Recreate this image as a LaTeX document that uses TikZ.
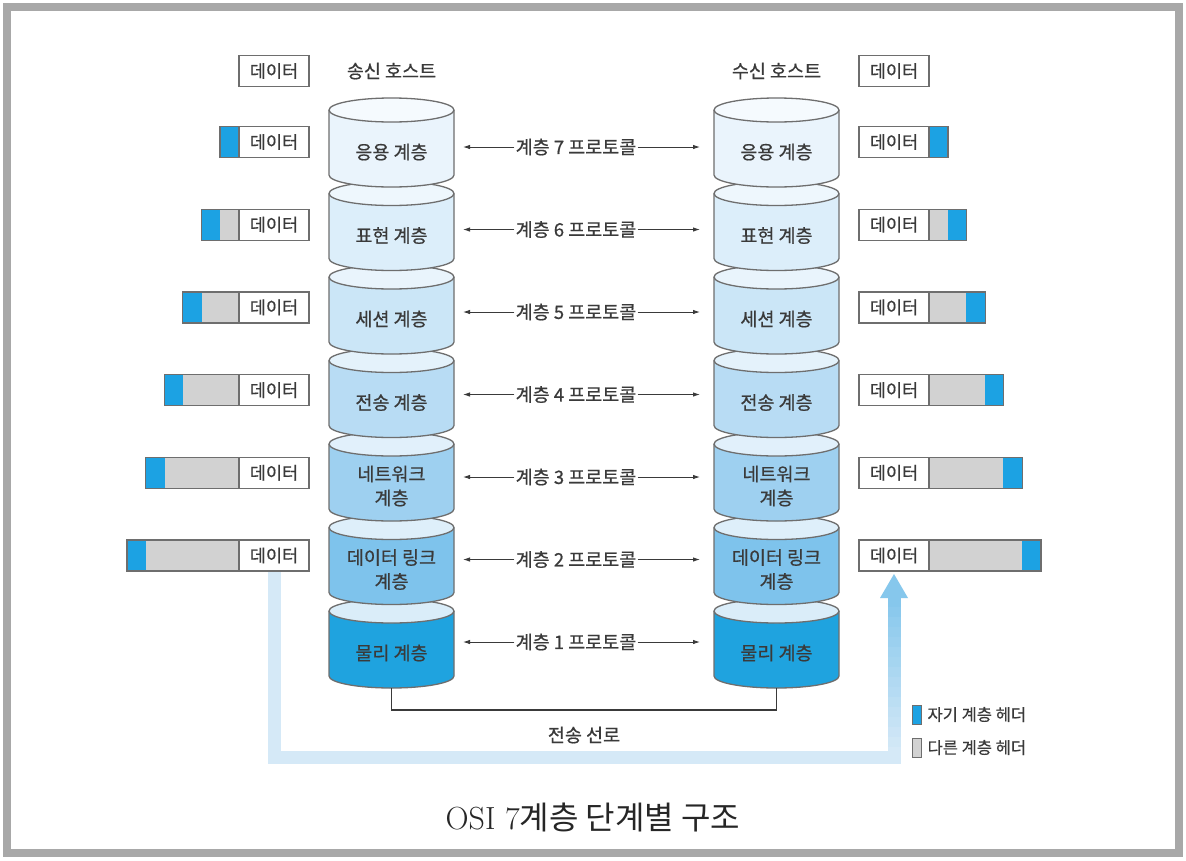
\documentclass[tikz,border=0pt]{standalone}
\usepackage{fontspec}
\newfontfamily\cjk{Noto Sans CJK KR}[FakeBold=0.6]
\newfontfamily\cjktitle{Noto Sans CJK KR}
\usetikzlibrary{arrows.meta,positioning}

\definecolor{framegray}{HTML}{A8A8A8}
\definecolor{edge}{HTML}{6E6E6E}
\definecolor{textc}{HTML}{3A3A3A}
\definecolor{hdrblue}{HTML}{1CA2E3}
\definecolor{hdrgray}{HTML}{D2D2D2}
\definecolor{lbpath}{HTML}{D5E9F7}
\definecolor{lbhead}{HTML}{86C7EC}
% layer colours (body / top)
\definecolor{b7}{HTML}{EAF4FC}\definecolor{t7}{HTML}{F5FAFE}
\definecolor{b6}{HTML}{DCEEFA}\definecolor{t6}{HTML}{EEF7FD}
\definecolor{b5}{HTML}{CBE6F7}\definecolor{t5}{HTML}{E9F4FC}
\definecolor{b4}{HTML}{B8DCF4}\definecolor{t4}{HTML}{E4F2FB}
\definecolor{b3}{HTML}{9ED0F0}\definecolor{t3}{HTML}{E1F0FB}
\definecolor{b2}{HTML}{7EC3EC}\definecolor{t2}{HTML}{DEEFFA}
\definecolor{b1}{HTML}{1FA3DF}\definecolor{t1}{HTML}{DAEDF9}

\begin{document}
\begin{tikzpicture}[x=1pt,y=1pt,yscale=-1,
  txt/.style={font=\cjk\fontsize{18.5}{24}\selectfont, text=textc, inner sep=1pt},
  layerlbl/.style={txt, align=center},
  datab/.style={txt, font=\cjk\fontsize{17.5}{21}\selectfont, draw=edge, line width=1.2pt, fill=white, minimum width=70pt, minimum height=31pt, inner sep=0pt},
  arr/.style={-{Latex[length=7pt,width=4.5pt]}, line width=0.9pt, draw=textc},
  wire/.style={line width=1.2pt, draw=textc},
  keybox/.style={draw=edge, line width=0.8pt, minimum width=9pt, minimum height=19pt, inner sep=0pt},
  keytxt/.style={font=\cjk\fontsize{16.5}{19}\selectfont, text=textc, inner sep=0pt}]

\useasboundingbox (0,0) rectangle (1186,860);
\fill[white] (0,0) rectangle (1186,860);
% frame
\draw[line width=8pt, framegray] (7,7) rectangle (1179,853);

% hosts
\node[txt] (shost) at (391.5,71) {송신 호스트};
\node[txt] (rhost) at (776.5,71) {수신 호스트};
\node[datab] (sd0) at (274,71) {데이터};
\node[datab] (rd0) at (894,71) {데이터};

% path of the data through the wire
\coordinate (lowl) at (274,757);
\coordinate (ahead) at (894,598);
\coordinate (atip) at (894,574);
\draw[line width=13pt, lbpath] (274,571) -- (lowl) -| (ahead);
\foreach \k in {0,...,15} {
  \pgfmathtruncatemacro\pc{\k*100/15}
  \fill[lbhead!\pc!lbpath] (887.5,757-\k*10) rectangle (900.5,757-\k*10-10.5);
}
\fill[lbhead] ([xshift=-14pt]ahead) -- ([xshift=14pt]ahead) -- (atip) -- cycle;

% cylinders, bottom first
\foreach \n/\lbl [evaluate=\n as \T using 98+83.5*(7-\n)] in
  {1/{물리 계층}, 2/{데이터 링크\\계층}, 3/{네트워크\\계층}, 4/{전송 계층},
   5/{세션 계층}, 6/{표현 계층}, 7/{응용 계층}} {
  \foreach \cx/\side in {391.5/s,776.5/r} {
    \path[fill=b\n, draw=edge, line width=1.3pt] (\cx-62.5,\T+12) -- (\cx-62.5,\T+77)
      arc(180:0:62.5 and 12) -- (\cx+62.5,\T+12);
    \filldraw[fill=t\n, draw=edge, line width=1.3pt] (\cx,\T+12) ellipse (62.5 and 12);
    \node[layerlbl] (\side\n) at (\cx,\T+54) {\lbl};
  }
}

% protocols
\foreach \n [evaluate=\n as \y using 147+82.5*(7-\n)] in {7,...,1} {
  \node[txt] (p\n) at (576,\y) {계층 \n\ 프로토콜};
  \coordinate (pl\n) at (463,\y);
  \coordinate (pr\n) at (700,\y);
  \draw[arr] (p\n) -- (pl\n);
  \draw[arr] (p\n) -- (pr\n);
}

% headers
\foreach \i in {0,...,5} {
  \pgfmathsetmacro\y{142+82.7*\i}
  \pgfmathsetmacro\g{18.6*\i}
  \pgfmathtruncatemacro\n{7-\i}
  % sender
  \fill[hdrblue] (239-\g-19,\y-15.5) rectangle (239-\g,\y+15.5);
  \fill[hdrgray] (239-\g,\y-15.5) rectangle (239,\y+15.5);
  \draw[edge, line width=1.2pt] (239-\g-19,\y-15.5) rectangle (239,\y+15.5);
  \node[datab] (sd\n) at (274,\y) {데이터};
  % receiver
  \fill[hdrgray] (929,\y-15.5) rectangle (929+\g,\y+15.5);
  \fill[hdrblue] (929+\g,\y-15.5) rectangle (929+\g+19,\y+15.5);
  \draw[edge, line width=1.2pt] (929,\y-15.5) rectangle (929+\g+19,\y+15.5);
  \node[datab] (rd\n) at (894,\y) {데이터};
}

% wire
\coordinate (sb) at (391.5,688);
\coordinate (rb) at (776.5,688);
\draw[wire] (sb) -- ++(0,22) -| (rb);
\node[txt] (line) at (584,735) {전송 선로};

% legend
\node[keybox, fill=hdrblue] (kown) at (916.5,714.5) {};
\node[keytxt, right=6pt of kown] {자기 계층 헤더};
\node[keybox, fill=hdrgray] (koth) at (916.5,747.5) {};
\node[keytxt, right=6pt of koth] {다른 계층 헤더};

% caption
\node[text=black!85] (title) at (593,817) {\fontsize{32}{36}\selectfont OSI 7\cjktitle 계층 단계별 구조};

\end{tikzpicture}
\end{document}
